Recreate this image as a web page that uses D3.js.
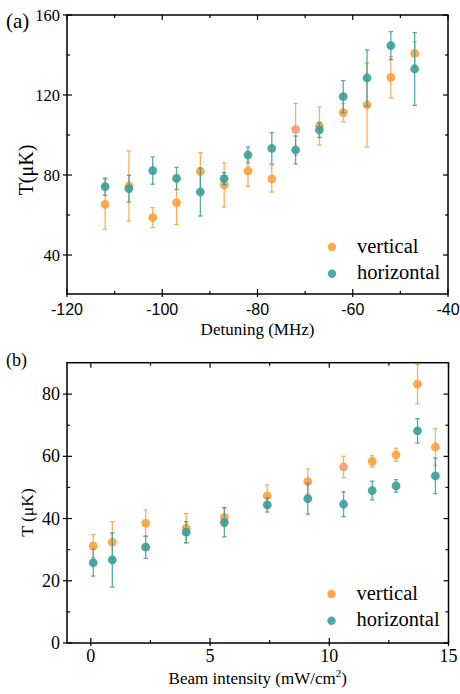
<!DOCTYPE html>
<html>
<head>
<meta charset="utf-8">
<script src="https://cdn.jsdelivr.net/npm/d3@7"></script>
<style>
  body { margin: 0; background: #fff; }
  svg { display: block; }
</style>
</head>
<body>
<div id="container"></div>
<script>
// panel (a): detuning scan
const detuning = [-112, -107, -102, -97, -92, -87, -82, -77, -72, -67, -62, -57, -52, -47];
const aVert    = [65.3, 74.5, 58.7, 66.2, 81.7, 75.0, 82.0, 78.0, 102.8, 104.5, 111.2, 115.0, 128.8, 140.8];
const aVertErr = [12.5, 17.5, 5.0, 11.0, 9.5, 11.0, 7.7, 6.5, 13.0, 9.5, 4.6, 21.0, 10.3, 5.8];
const aHorz    = [74.2, 73.2, 82.2, 78.3, 71.5, 78.2, 90.0, 93.3, 92.5, 102.5, 119.2, 128.5, 144.7, 133.0];
const aHorzErr = [4.3, 6.7, 6.8, 5.5, 12.0, 3.0, 4.0, 7.8, 7.0, 3.7, 8.0, 14.0, 7.0, 18.2];

// panel (b): beam intensity scan
const intensity = [0.1, 0.9, 2.3, 4.0, 5.6, 7.4, 9.1, 10.6, 11.8, 12.8, 13.7, 14.45];
const bVert    = [31.2, 32.4, 38.5, 36.9, 40.4, 47.3, 51.9, 56.6, 58.4, 60.5, 83.2, 63.0];
const bVertErr = [3.7, 6.6, 4.3, 4.7, 3.0, 3.5, 4.0, 3.4, 1.8, 2.1, 6.3, 5.9];
const bHorz    = [25.8, 26.7, 30.8, 35.6, 38.8, 44.4, 46.4, 44.6, 49.0, 50.5, 68.2, 53.7];
const bHorzErr = [4.3, 8.7, 3.6, 3.4, 4.7, 2.3, 5.0, 4.0, 3.0, 2.0, 3.9, 5.7];

// one vertical point in each panel is drawn in a lighter salmon tone
const aHighlight = 8;
const bHighlight = 7;

const seriesNames = ["vertical", "horizontal"];

const w = 460;
const h = 694;
const orange = "#ffa03c";
const teal = "#3a9e9a";
const salmon = "#f79a7c";
const serif = "'Liberation Serif', 'Times New Roman', serif";
const sans = "'Liberation Sans', Arial, sans-serif";

let svg = d3.select("#container")
  .append("svg")
    .attr("width", w)
    .attr("height", h);

function drawPanel(opt) {
  let g = svg.append("g");
  let x = d3.scaleLinear().domain(opt.xDomain).range([opt.left, opt.right]);
  let y = d3.scaleLinear().domain(opt.yDomain).range([opt.bottom, opt.top]);

  // frame
  g.append("rect")
    .attr("x", opt.left).attr("y", opt.top)
    .attr("width", opt.right - opt.left).attr("height", opt.bottom - opt.top)
    .attr("fill", "none").attr("stroke", "#000").attr("stroke-width", 1.5);

  // ticks
  let tickLine = (x1, y1, x2, y2) => g.append("line")
    .attr("x1", x1).attr("y1", y1).attr("x2", x2).attr("y2", y2)
    .attr("stroke", "#000").attr("stroke-width", 1.2);

  opt.xMinor.forEach(v => {
    tickLine(x(v), opt.bottom, x(v), opt.bottom - 3);
    tickLine(x(v), opt.top, x(v), opt.top + 3);
  });
  opt.xMajor.forEach(v => {
    tickLine(x(v), opt.bottom + 3, x(v), opt.bottom - 5);
    tickLine(x(v), opt.top, x(v), opt.top + 5);
  });
  opt.yMinor.forEach(v => {
    tickLine(opt.left, y(v), opt.left + 3, y(v));
    tickLine(opt.right, y(v), opt.right - 3, y(v));
  });
  opt.yMajor.forEach(v => {
    tickLine(opt.left - 4, y(v), opt.left + 5, y(v));
    tickLine(opt.right, y(v), opt.right - 5, y(v));
  });

  // tick labels
  g.selectAll(".xl").data(opt.xMajor).enter().append("text")
    .attr("x", d => x(d)).attr("y", opt.bottom + opt.xTickDy)
    .attr("text-anchor", "middle")
    .style("font-family", opt.xFont).style("font-size", opt.xTickSize + "px")
    .text(d => d);
  g.selectAll(".yl").data(opt.yMajor).enter().append("text")
    .attr("x", opt.left - 7).attr("y", d => y(d) + opt.yTickSize * 0.34)
    .attr("text-anchor", "end")
    .style("font-family", serif).style("font-size", opt.yTickSize + "px")
    .text(d => d);

  // axis titles
  let xt = g.append("text")
    .attr("x", (opt.left + opt.right) / 2).attr("y", opt.bottom + 41)
    .attr("text-anchor", "middle")
    .style("font-family", serif).style("font-size", "17px");
  opt.xTitle(xt);
  g.append("text")
    .attr("transform", `translate(${opt.yTitleX},${opt.yTitleY}) rotate(-90)`)
    .attr("text-anchor", "middle")
    .style("font-family", serif).style("font-size", opt.yTitleSize + "px")
    .text(opt.yTitle);
  g.append("text")
    .attr("x", 6).attr("y", opt.labelY)
    .style("font-family", serif).style("font-size", opt.labelSize + "px")
    .text(opt.label);

  // series
  let series = [
    {vals: opt.vert, errs: opt.vertErr, color: orange},
    {vals: opt.horz, errs: opt.horzErr, color: teal}
  ];
  series.forEach((s, si) => {
    let pts = opt.xs.map((xv, i) => ({
      x: xv, y: s.vals[i], e: s.errs[i],
      c: (si === 0 && i === opt.highlight) ? salmon : s.color
    }));
    let eb = g.append("g").attr("opacity", 0.85);
    pts.forEach(p => {
      eb.append("line")
        .attr("x1", x(p.x)).attr("x2", x(p.x))
        .attr("y1", y(p.y - p.e)).attr("y2", y(p.y + p.e))
        .attr("stroke", s.color).attr("stroke-width", 1.3);
      [p.y - p.e, p.y + p.e].forEach(v => {
        eb.append("line")
          .attr("x1", x(p.x) - 2.2).attr("x2", x(p.x) + 2.2)
          .attr("y1", y(v)).attr("y2", y(v))
          .attr("stroke", s.color).attr("stroke-width", 1.3);
      });
    });
    g.selectAll(null).data(pts).enter().append("circle")
      .attr("cx", d => x(d.x)).attr("cy", d => y(d.y))
      .attr("r", 4.4)
      .attr("fill", d => d.c).attr("fill-opacity", 0.9);
  });

  // legend
  let lg = g.append("g");
  [orange, teal].forEach((c, i) => {
    lg.append("circle")
      .attr("cx", opt.legX).attr("cy", opt.legY + i * 26.7)
      .attr("r", 4.2).attr("fill", c).attr("fill-opacity", 0.9);
    lg.append("text")
      .attr("x", opt.legX + 25).attr("y", opt.legY + i * 26.7 + 5.5)
      .style("font-family", serif).style("font-size", "20.5px")
      .text(seriesNames[i]);
  });
}

drawPanel({
  left: 67, right: 448, top: 15, bottom: 294,
  xDomain: [-120, -40], yDomain: [20.5, 160],
  xMajor: [-120, -100, -80, -60, -40],
  xMinor: [-110, -90, -70, -50],
  yMajor: [40, 80, 120, 160],
  yMinor: [60, 100, 140],
  xFont: sans, xTickSize: 16, xTickDy: 21, yTickSize: 16.5,
  xTitle: t => t.text("Detuning (MHz)"),
  yTitle: "T(\u03bcK)", yTitleX: 33, yTitleY: 170, yTitleSize: 20,
  label: "(a)", labelY: 28, labelSize: 21,
  xs: detuning, vert: aVert, vertErr: aVertErr, horz: aHorz, horzErr: aHorzErr,
  highlight: aHighlight,
  legX: 332, legY: 247
});

drawPanel({
  left: 67, right: 448.5, top: 362.7, bottom: 643,
  xDomain: [-1, 15], yDomain: [0, 90.1],
  xMajor: [0, 5, 10, 15],
  xMinor: [2.5, 7.5, 12.5],
  yMajor: [0, 20, 40, 60, 80],
  yMinor: [10, 30, 50, 70],
  xFont: serif, xTickSize: 18, xTickDy: 19, yTickSize: 18,
  xTitle: t => {
    t.append("tspan").text("Beam intensity (mW/cm");
    t.append("tspan").attr("dy", -7).style("font-size", "11px").text("2");
    t.append("tspan").attr("dy", 7).text(")");
  },
  yTitle: "T (\u03bcK)", yTitleX: 32.5, yTitleY: 512.5, yTitleSize: 17.5,
  label: "(b)", labelY: 366, labelSize: 18,
  xs: intensity, vert: bVert, vertErr: bVertErr, horz: bHorz, horzErr: bHorzErr,
  highlight: bHighlight,
  legX: 331.5, legY: 594
});
</script>
</body>
</html>
